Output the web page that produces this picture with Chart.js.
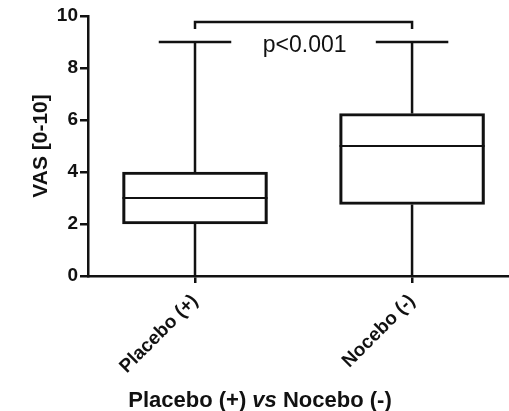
<!DOCTYPE html>
<html>
<head>
<meta charset="utf-8">
<script src="https://cdn.jsdelivr.net/npm/chart.js@4/dist/chart.umd.min.js"></script>
<style>
  body { margin: 0; background: #fff; }
  #wrap { width: 509px; height: 411px; }
</style>
</head>
<body>
<div id="wrap"><canvas id="chart-box"></canvas></div>
<script>
const categories = ['Placebo (+)', 'Nocebo (-)'];
const mins = [0, 0];
const q1s = [2, 2.75];
const medians = [3, 5];
const q3s = [4, 6.25];
const maxs = [9, 9];
const yTicks = [0, 2, 4, 6, 8, 10];
const pLabel = 'p<0.001';
const bracketTop = 9.77;
const bracketEnd = 9.5;
const pLabelY = 8.85;

const ink = '#111';
const fontFam = '"Liberation Sans", Arial, sans-serif';

// medians, whiskers, caps, bracket and x title
const boxExtras = {
  id: 'boxExtras',
  afterDatasetsDraw(chart) {
    const ctx = chart.ctx;
    const x = chart.scales.x, y = chart.scales.y;
    const bars = chart.getDatasetMeta(0).data;
    ctx.save();
    ctx.strokeStyle = ink;
    ctx.lineCap = 'butt';
    categories.forEach((c, i) => {
      const cx = x.getPixelForValue(i);
      const half = bars[i].width / 2;
      // median
      ctx.lineWidth = 2;
      ctx.beginPath();
      ctx.moveTo(cx - half, y.getPixelForValue(medians[i]));
      ctx.lineTo(cx + half, y.getPixelForValue(medians[i]));
      ctx.stroke();
      // whiskers
      ctx.lineWidth = 2.5;
      ctx.beginPath();
      ctx.moveTo(cx, y.getPixelForValue(q3s[i]));
      ctx.lineTo(cx, y.getPixelForValue(maxs[i]));
      ctx.moveTo(cx, y.getPixelForValue(q1s[i]));
      ctx.lineTo(cx, y.getPixelForValue(mins[i]));
      // caps
      ctx.moveTo(cx - half / 2, y.getPixelForValue(maxs[i]));
      ctx.lineTo(cx + half / 2, y.getPixelForValue(maxs[i]));
      ctx.stroke();
    });
    // significance bracket
    const x0 = x.getPixelForValue(0), x1 = x.getPixelForValue(1);
    const yt = y.getPixelForValue(bracketTop), ye = y.getPixelForValue(bracketEnd);
    ctx.lineWidth = 2.5;
    ctx.beginPath();
    ctx.moveTo(x0, ye);
    ctx.lineTo(x0, yt);
    ctx.lineTo(x1, yt);
    ctx.lineTo(x1, ye);
    ctx.stroke();
    ctx.fillStyle = ink;
    ctx.font = '23px ' + fontFam;
    ctx.textAlign = 'center';
    ctx.textBaseline = 'middle';
    ctx.fillText(pLabel, x.getPixelForValue(0.505), y.getPixelForValue(pLabelY));

    // x axis title with italic "vs"
    const parts = [
      ['bold 22px ' + fontFam, 'Placebo (+) '],
      ['italic bold 22px ' + fontFam, 'vs'],
      ['bold 22px ' + fontFam, ' Nocebo (-)']
    ];
    let total = 0;
    parts.forEach(p => { ctx.font = p[0]; total += ctx.measureText(p[1]).width; });
    let px = 260 - total / 2;
    ctx.textAlign = 'left';
    ctx.textBaseline = 'alphabetic';
    parts.forEach(p => {
      ctx.font = p[0];
      ctx.fillText(p[1], px, 407);
      px += ctx.measureText(p[1]).width;
    });
    ctx.restore();
  }
};

new Chart(document.getElementById('chart-box'), {
  type: 'bar',
  data: {
    datasets: [{
      data: categories.map((c, i) => ({ x: i, y: [q1s[i], q3s[i]] })),
      backgroundColor: 'rgba(255,255,255,0)',
      borderColor: ink,
      borderWidth: 2.5,
      borderSkipped: false,
      barThickness: 145
    }]
  },
  options: {
    responsive: true,
    maintainAspectRatio: false,
    animation: false,
    layout: { padding: { top: 16, right: 1, left: 0, bottom: 0 } },
    plugins: {
      legend: { display: false },
      tooltip: { enabled: false }
    },
    scales: {
      x: {
        type: 'linear',
        min: -0.493,
        max: 1.442,
        offset: false,
        grid: { offset: false, drawOnChartArea: false, color: ink, lineWidth: 2.5, tickLength: 7 },
        border: { color: ink, width: 2.5 },
        afterBuildTicks: s => { s.ticks = categories.map((c, i) => ({ value: i })); },
        afterFit: s => { s.height = 135; },
        ticks: {
          autoSkip: false,
          minRotation: 45,
          maxRotation: 45,
          color: ink,
          padding: 7,
          font: { family: fontFam, size: 19, weight: 'bold' },
          callback: v => categories[v]
        }
      },
      y: {
        min: 0,
        max: 10,
        afterBuildTicks: s => { s.ticks = yTicks.map(v => ({ value: v })); },
        afterFit: s => { s.width = 88; },
        grid: { drawOnChartArea: false, color: ink, lineWidth: 2.5, tickLength: 8 },
        border: { color: ink, width: 2.5 },
        ticks: {
          color: ink,
          padding: 2,
          font: { family: fontFam, size: 19, weight: 'bold' }
        },
        title: {
          display: true,
          text: 'VAS [0-10]',
          color: ink,
          padding: { top: 29, bottom: 0 },
          font: { family: fontFam, size: 21, weight: 'bold' }
        }
      }
    }
  },
  plugins: [boxExtras]
});
</script>
</body>
</html>
